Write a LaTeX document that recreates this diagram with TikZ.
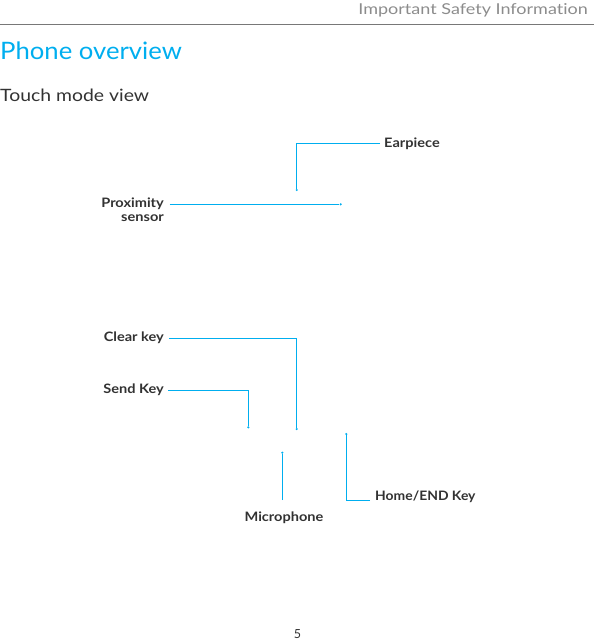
\documentclass[tikz,border=0pt]{standalone}
\usepackage{fontspec}
\setmainfont{Lato}
\newfontfamily\hdrfont[FakeStretch=1.2, Ligatures=NoCommon]{Lato}
\newfontfamily\ttlfont[FakeStretch=1.07]{Lato}
\newfontfamily\subfont[FakeStretch=1.14]{Lato}
\newfontfamily\lblfont[FakeStretch=1.12]{Lato}
\newfontfamily\homefont[FakeStretch=1.07]{Lato}
\usetikzlibrary{calc}
\definecolor{attblue}{RGB}{0,174,239}
\definecolor{hdrgray}{RGB}{140,140,140}
\definecolor{rulegray}{RGB}{120,120,120}
\definecolor{txtdark}{RGB}{50,50,50}
\begin{document}
\begin{tikzpicture}[x=1pt,y=-1pt,
  lbl/.style={inner sep=0pt, font=\lblfont\fontsize{13}{14}\selectfont\bfseries, text=txtdark},
  lead/.style={draw=attblue, line width=0.9pt},
  tipdot/.style={circle, fill=attblue, inner sep=0pt, minimum size=2.4pt},
  hdr/.style={inner sep=0pt, font=\hdrfont\fontsize{15}{16}\selectfont, text=hdrgray},
  ttl/.style={inner sep=0pt, font=\ttlfont\fontsize{24}{26}\selectfont, text=attblue},
  sub/.style={inner sep=0pt, font=\subfont\fontsize{17}{19}\selectfont, text=txtdark},
]
\useasboundingbox (0,0) rectangle (594,640);
% header
\node[hdr, anchor=base east] (header) at (588,14) {Important Safety Information};
\coordinate (ruleL) at (0,24);
\coordinate (ruleR) at (594,24);
\draw[rulegray, line width=0.8pt] (ruleL) -- (ruleR);
\node[ttl, anchor=base west] (title) at (0,59) {Phone overview};
\node[sub, anchor=base west] (subtitle) at (0,101.7) {Touch mode view};
% labels
\node[lbl, anchor=base west] (ear) at (384,147.3) {Earpiece};
\node[lbl, anchor=base east, align=right] (prox) at (164,221.7) {Proximity\\sensor};
\node[lbl, anchor=base east] (clear) at (164,341.7) {Clear key};
\node[lbl, anchor=base east] (send) at (164,393.7) {Send Key};
\node[lbl, anchor=base] (mic) at (284,521.7) {Microphone};
\node[lbl, font=\homefont\fontsize{13}{14}\selectfont\bfseries, anchor=base west] (home) at (375,500.7) {Home/END Key};
% tips
\node[tipdot] (tipE) at (296.7,190) {};
\node[tipdot] (tipP) at (340.7,204.3) {};
\node[tipdot] (tipC) at (296.7,429) {};
\node[tipdot] (tipS) at (248.3,427.3) {};
\node[tipdot] (tipM) at (282.3,452.7) {};
\node[tipdot] (tipH) at (346.3,434) {};
% leaders
\draw[lead] (380,143.3) -| (tipE);
\draw[lead] (169.5,204.3) -- (tipP);
\draw[lead] (169,338.3) -| (tipC);
\draw[lead] (168,390.3) -| (tipS);
\draw[lead] (282.3,500) -- (tipM);
\draw[lead] (370,500) -| (tipH);
% page number
\node[inner sep=0pt, anchor=base, font=\fontsize{12.5}{13}\selectfont, text=txtdark] (page) at (297.5,638.5) {5};
\end{tikzpicture}
\end{document}
